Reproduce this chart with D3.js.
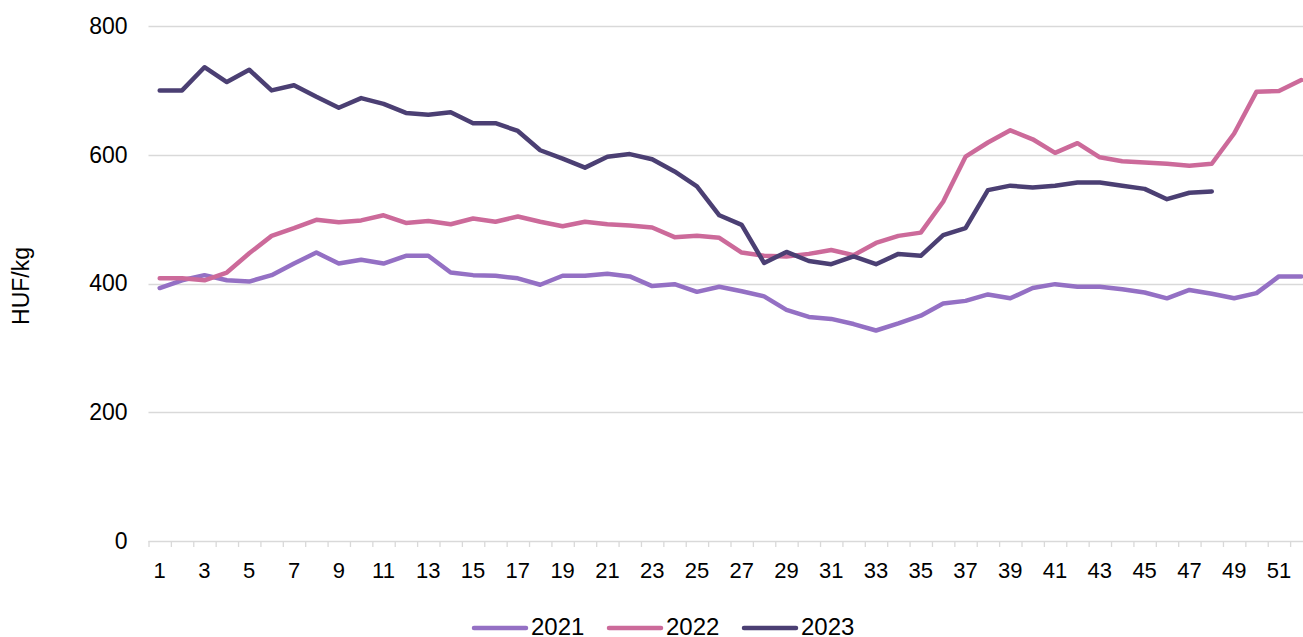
<!DOCTYPE html>
<html>
<head>
<meta charset="utf-8">
<script src="https://cdn.jsdelivr.net/npm/d3@7"></script>
<style>
  body { margin: 0; background: #fff; }
  text { font-family: "Liberation Sans", Arial, sans-serif; fill: #000; }
</style>
</head>
<body>
<script>
var weeks = d3.range(1, 53);
var yTicks = [0, 200, 400, 600, 800];
var seriesNames = ["2021", "2022", "2023"];
var colors = ["#9470c4", "#cc6a9a", "#4b3f73"];

var v2021 = [393, 405, 413, 405, 403, 413, 431, 448, 431, 437, 431, 443, 443, 417, 413, 412, 408, 398,
  412, 412, 415, 411, 396, 399, 387, 395, 388, 380, 359, 348, 345, 337, 327, 338, 350,
  369, 373, 383, 377, 393, 399, 395, 395, 391, 386, 377, 390, 384, 377, 385, 411, 411];
var v2022 = [408, 408, 405, 417, 447, 474, 486, 499, 495, 498, 506, 494, 497, 492, 501, 496, 504, 496,
  489, 496, 492, 490, 487, 472, 474, 471, 448, 443, 442, 446, 452, 444, 463, 474, 479,
  527, 597, 619, 638, 624, 603, 618, 596, 590, 588, 586, 583, 586, 633, 698, 699, 716];
var v2023 = [700, 700, 736, 713, 732, 700, 708, 690, 673, 688, 679, 665, 662, 666, 649, 649, 637, 607,
  594, 580, 597, 601, 593, 574, 551, 506, 491, 432, 449, 435, 430, 442, 430, 446, 443,
  475, 486, 545, 552, 549, 552, 557, 557, 552, 547, 531, 541, 543];
var seriesValues = [v2021, v2022, v2023];

var svgWidth = 1303, svgHeight = 637;
var svg = d3.select("body").append("svg")
  .attr("width", svgWidth)
  .attr("height", svgHeight);

var margin = {left: 148.5, top: 26},
    plotRight = 1312.5,
    plotBottom = 541;

var x = d3.scaleBand().domain(weeks).range([margin.left, plotRight]);
var y = d3.scaleLinear().domain([0, 800]).range([plotBottom, margin.top]);

// gridlines
svg.append("g")
  .selectAll("line")
  .data(yTicks)
  .enter().append("line")
  .attr("x1", margin.left)
  .attr("x2", plotRight)
  .attr("y1", function(d) { return Math.round(y(d)) + 0.5; })
  .attr("y2", function(d) { return Math.round(y(d)) + 0.5; })
  .attr("stroke", "#d9d9d9")
  .attr("stroke-width", 1.3);

// y axis labels
var yAxis = d3.axisLeft(y).tickValues(yTicks).tickSize(0).tickPadding(21);
svg.append("g")
  .attr("transform", "translate(" + margin.left + ",0)")
  .call(yAxis)
  .call(function(g) { g.select(".domain").remove(); })
  .selectAll("text")
  .style("font-size", "23px")
  .attr("font-family", null);

// x axis tick marks (category boundaries)
svg.append("g")
  .selectAll("line")
  .data(weeks)
  .enter().append("line")
  .attr("x1", function(d) { return x(d) + 0.5; })
  .attr("x2", function(d) { return x(d) + 0.5; })
  .attr("y1", plotBottom)
  .attr("y2", plotBottom + 6)
  .attr("stroke", "#d9d9d9")
  .attr("stroke-width", 1.3);

// x axis labels
var xAxis = d3.axisBottom(x)
  .tickValues(weeks.filter(function(d) { return d % 2 === 1; }))
  .tickSize(0)
  .tickPadding(21);
svg.append("g")
  .attr("transform", "translate(0," + plotBottom + ")")
  .call(xAxis)
  .call(function(g) { g.select(".domain").remove(); })
  .selectAll("text")
  .style("font-size", "22px")
  .attr("font-family", null);

// y title
svg.append("text")
  .attr("transform", "translate(29,286) rotate(-90)")
  .attr("text-anchor", "middle")
  .style("font-size", "23px")
  .text("HUF/kg");

// lines
var line = d3.line()
  .x(function(d, i) { return x(weeks[i]) + x.bandwidth() / 2; })
  .y(function(d) { return y(d); });

svg.append("g")
  .selectAll("path")
  .data(seriesValues)
  .enter().append("path")
  .attr("fill", "none")
  .attr("stroke", function(d, i) { return colors[i]; })
  .attr("stroke-width", 4.5)
  .attr("stroke-linejoin", "round")
  .attr("stroke-linecap", "round")
  .attr("d", line);

// legend
var legendX = [474, 609, 744];
var legend = svg.append("g")
  .selectAll("g")
  .data(seriesNames)
  .enter().append("g")
  .attr("transform", function(d, i) { return "translate(" + legendX[i] + ",628)"; });
legend.append("line")
  .attr("x1", 0).attr("x2", 52)
  .attr("stroke", function(d, i) { return colors[i]; })
  .attr("stroke-width", 4.5)
  .attr("stroke-linecap", "round");
legend.append("text")
  .attr("x", 57)
  .attr("y", 7)
  .style("font-size", "24px")
  .text(function(d) { return d; });
</script>
</body>
</html>
